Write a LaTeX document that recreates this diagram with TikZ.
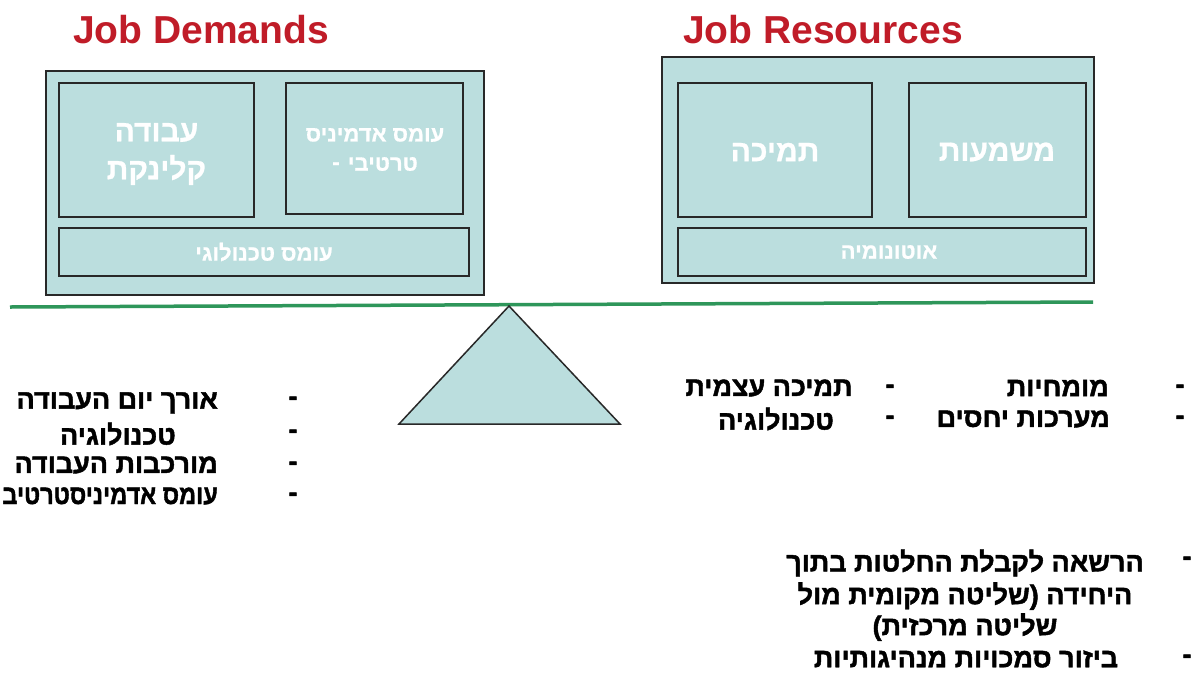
\documentclass[tikz,border=0pt]{standalone}
\usepackage{fontspec}
\setmainfont{Liberation Sans}
\newfontfamily\hebb[Script=Hebrew, FakeBold=1.6]{Liberation Sans Bold}
\newfontfamily\hebm[Script=Hebrew, FakeBold=0.8]{Liberation Sans Bold}
\TeXXeTstate=1
\definecolor{panel}{RGB}{187,222,222}
\definecolor{edge}{RGB}{40,40,40}
\definecolor{title}{RGB}{192,28,40}
\definecolor{beam}{RGB}{46,150,90}
\newcommand{\rtl}[1]{\beginR #1\endR}
\tikzset{
  outerbox/.style={draw=edge, line width=2pt, fill=panel},
  innerbox/.style={draw=edge, line width=2.4pt, fill=panel},
  boxtext/.style={text=white, font=\hebm\fontsize{30}{38}\selectfont, align=center, inner sep=0pt},
  smalltext/.style={text=white, font=\hebm\fontsize{22}{30}\selectfont, align=center, inner sep=0pt},
  heading/.style={text=title, font=\bfseries\fontsize{39}{44}\selectfont, inner sep=0pt, anchor=base west},
  item/.style={text=black, font=\hebb\fontsize{27}{31}\selectfont, inner sep=0pt},
  bullet/.style={text=black, font=\hebb\fontsize{27}{31}\selectfont, inner sep=0pt},
}
\begin{document}
\begin{tikzpicture}[x=1pt,y=-1pt]
\useasboundingbox[fill=white] (0,0) rectangle (1198,675);

% headings
\node[heading] (tdem) at (73,43) {Job Demands};
\node[heading] (tres) at (683,43) {Job Resources};

% demands panel
\draw[outerbox] (46,71) rectangle (484,295);
\draw[innerbox] (59,83) rectangle (254,217);
\draw[innerbox] (286,83) rectangle (463,214);
\draw[innerbox] (59,228) rectangle (469,276);
\node[boxtext] (clin) at (156.5,154) {\rtl{עבודה}\\\rtl{קלינקת}};
\node[smalltext] (adm1) at (375,135) {\rtl{עומס אדמיניס}};
\node[smalltext, anchor=east] (adm2) at (418,164) {\rtl{טרטיבי}};
\node[smalltext] (admd) at (336,166) {-};
\node[smalltext] (tech) at (264,252) {\rtl{עומס טכנולוגי}};

% resources panel
\draw[outerbox] (662,57) rectangle (1094,283);
\draw[innerbox] (678,83) rectangle (872,217);
\draw[innerbox] (909,83) rectangle (1086,217);
\draw[innerbox] (678,228) rectangle (1086,276);
\node[boxtext] (supp) at (775,152) {\rtl{תמיכה}};
\node[boxtext] (mean) at (997,152) {\rtl{משמעות}};
\node[smalltext] (auto) at (889,252) {\rtl{אוטונומיה}};

% balance beam and fulcrum
\draw[beam, line width=3.5pt] (10,307) -- (1093,302);
\draw[draw=edge, line width=1.5pt, fill=panel, line join=miter] (509,306) -- (620,424) -- (399,424) -- cycle;

% demands list
\node[item, anchor=east] (d1) at (218,403) {\rtl{אורך יום העבודה}};
\node[item, anchor=east] (d2) at (176,434) {\rtl{טכנולוגיה}};
\node[item, anchor=east] (d3) at (218,465) {\rtl{מורכבות העבודה}};
\node[item, anchor=east] (d4) at (218,496) {\scalebox{0.87}[1]{\rtl{עומס אדמיניסטרטיב}}};
\foreach \yy/\nm in {401/b1,434/b2,466/b3,497/b4}
  \node[bullet] (\nm) at (293,\yy) {-};

% resources list, middle column
\node[item] (m1) at (769,388) {\rtl{תמיכה עצמית}};
\node[item] (m2) at (776,419) {\rtl{טכנולוגיה}};
\node[bullet] (mb1) at (890,389) {-};
\node[bullet] (mb2) at (890,420) {-};

% resources list, right column
\node[item, anchor=east] (r1) at (1109,388) {\rtl{מומחיות}};
\node[item, anchor=east] (r2) at (1110,419) {\rtl{מערכות יחסים}};
\node[bullet] (rb1) at (1180,389) {-};
\node[bullet] (rb2) at (1180,420) {-};

% resources list, lower block
\node[item] (l1) at (965,563) {\rtl{הרשאה לקבלת החלטות בתוך}};
\node[item] (l2) at (965,596) {\rtl{היחידה (שליטה מקומית מול}};
\node[item] (l3) at (965,627) {\rtl{שליטה מרכזית)}};
\node[item] (l4) at (966,659) {\rtl{ביזור סמכויות מנהיגותיות}};
\node[bullet] (lb1) at (1187,561) {-};
\node[bullet] (lb2) at (1187,659) {-};
\end{tikzpicture}
\end{document}
